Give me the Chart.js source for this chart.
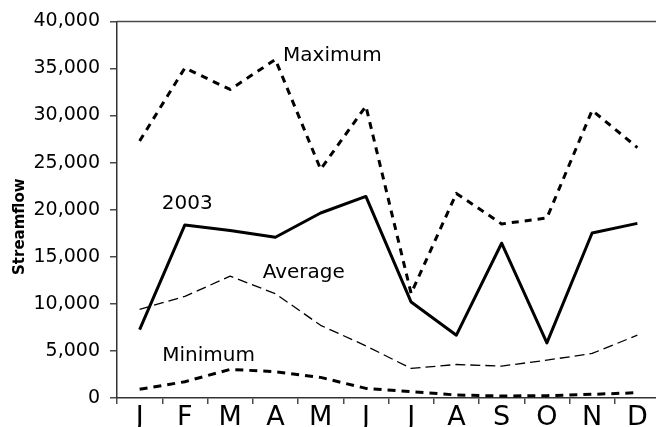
<!DOCTYPE html>
<html>
<head>
<meta charset="utf-8">
<script src="https://cdn.jsdelivr.net/npm/chart.js@4/dist/chart.umd.min.js"></script>
<style>
  html, body { margin: 0; padding: 0; background: #fff; overflow: hidden; width: 656px; height: 427px; }
  canvas { display: block; }
</style>
</head>
<body>
<canvas id="c" width="660" height="427"></canvas>
<script>
const months = ['J','F','M','A','M','J','J','A','S','O','N','D'];
const yTickValues = [0,5000,10000,15000,20000,25000,30000,35000,40000];
const series2003 = [7270,18380,17780,17070,19650,21410,10190,6670,16440,5850,17530,18550];
const maximum = [27300,35060,32770,35950,24300,31000,11100,21730,18490,19120,30550,26600];
const average = [9420,10790,12940,11080,7720,5540,3140,3560,3390,4020,4730,6670];
const minimum = [920,1730,3040,2790,2190,1020,670,320,210,250,390,560];
const seriesLabels = ['Maximum','2003','Average','Minimum'];
// label anchors in data coordinates: [category index, value]
const labelAnchors = [[3.17,35770],[0.49,20100],[2.72,12730],[0.50,3915]];
const yTitle = 'Streamflow';

const FONT = "'DejaVu Sans', Verdana, sans-serif";

const annotate = {
  id: 'annotate',
  afterDraw(chart) {
    const {ctx, chartArea, scales} = chart;
    ctx.save();
    // top frame line
    ctx.strokeStyle = '#4a4a4a';
    ctx.lineWidth = 1.5;
    ctx.beginPath();
    ctx.moveTo(chartArea.left, chartArea.top);
    ctx.lineTo(chartArea.right, chartArea.top);
    ctx.stroke();
    // series labels
    ctx.fillStyle = '#000';
    ctx.font = "20px " + FONT;
    ctx.textAlign = 'left';
    ctx.textBaseline = 'alphabetic';
    seriesLabels.forEach((t, i) => {
      const x = scales.x.getPixelForValue(labelAnchors[i][0]);
      const y = scales.y.getPixelForValue(labelAnchors[i][1]);
      ctx.fillText(t, x, y);
    });
    // y axis title
    ctx.font = "bold 15px " + FONT;
    ctx.textAlign = 'center';
    ctx.textBaseline = 'middle';
    ctx.translate(20, chartArea.top + (chartArea.bottom - chartArea.top) * 0.545);
    ctx.rotate(-Math.PI / 2);
    ctx.fillText(yTitle, 0, 0);
    ctx.restore();
  }
};

const lineDs = (label, data, width, dash) => ({
  label, data,
  borderColor: '#000',
  backgroundColor: '#000',
  borderWidth: width,
  borderDash: dash,
  borderCapStyle: 'butt',
  borderJoinStyle: 'round',
  pointRadius: 0,
  tension: 0,
  fill: false
});

new Chart(document.getElementById('c'), {
  type: 'line',
  data: {
    labels: months,
    datasets: [
      lineDs('Maximum', maximum, 3, [7, 6]),
      lineDs('2003', series2003, 3, []),
      lineDs('Average', average, 1.3, [10, 5]),
      lineDs('Minimum', minimum, 3, [8, 6])
    ]
  },
  options: {
    responsive: false,
    animation: false,
    devicePixelRatio: 1,
    layout: { padding: { top: 20, left: 0, right: 0, bottom: 0 } },
    plugins: { legend: { display: false }, tooltip: { enabled: false } },
    scales: {
      x: {
        type: 'category',
        offset: true,
        grid: { offset: true, drawOnChartArea: false, drawTicks: true, tickLength: 6, color: '#4a4a4a', lineWidth: 1.5 },
        border: { display: true, color: '#333', width: 1.5 },
        ticks: { font: { size: 27, family: FONT, lineHeight: 1 }, color: '#000', padding: 0, maxRotation: 0, autoSkip: false },
        afterFit: s => { s.height = 29; }
      },
      y: {
        min: 0, max: 40000,
        afterBuildTicks: s => { s.ticks = yTickValues.map(v => ({ value: v })); },
        grid: { drawOnChartArea: false, drawTicks: true, tickLength: 7, color: '#4a4a4a', lineWidth: 1.5 },
        border: { display: true, color: '#333', width: 1.5 },
        ticks: {
          font: { size: 19, family: FONT },
          color: '#000',
          padding: 10,
          callback: v => Number(v).toLocaleString('en-US')
        },
        afterFit: s => { s.width = 117; }
      }
    }
  },
  plugins: [annotate]
});
</script>
</body>
</html>
